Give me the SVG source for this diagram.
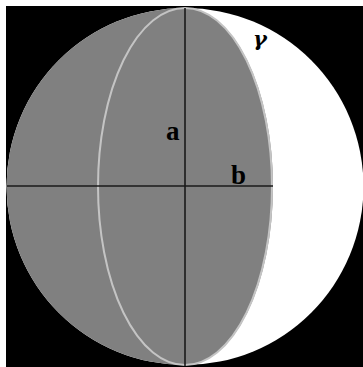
<svg xmlns="http://www.w3.org/2000/svg" width="363" height="367" viewBox="0 0 363 367">
<style>
.lbl{font-family:"Liberation Serif","Times New Roman",serif;font-weight:bold;fill:#000}
.gam{font-family:"DejaVu Serif","Liberation Serif",serif;font-weight:bold;font-style:italic;fill:#000}
.ax{stroke:#1a1a1a;stroke-width:1.6;fill:none}
</style>
<rect x="0" y="0" width="363" height="367" fill="#fff"/>
<rect x="6" y="6" width="357" height="361" fill="#000"/>
<g id="sphere">
<circle cx="185" cy="186.5" r="178.5" fill="#fff"/>
<path d="M185,8 A178.5,178.5 0 0 0 185,365 A88,178.5 0 0 0 185,8 Z" fill="#808080"/>
<ellipse cx="185" cy="186.5" rx="87" ry="178.5" fill="none" stroke="#c4c4c4" stroke-width="2"/>
</g>
<g id="axes">
<line class="ax" x1="185" y1="8" x2="185" y2="366"/>
<line class="ax" x1="7" y1="186" x2="273" y2="186"/>
</g>
<g id="labels">
<text class="lbl" x="166" y="140" font-size="27">a</text>
<text class="lbl" x="231" y="184" font-size="27">b</text>
<text class="gam" x="253" y="46" font-size="21">γ</text>
</g>
</svg>
